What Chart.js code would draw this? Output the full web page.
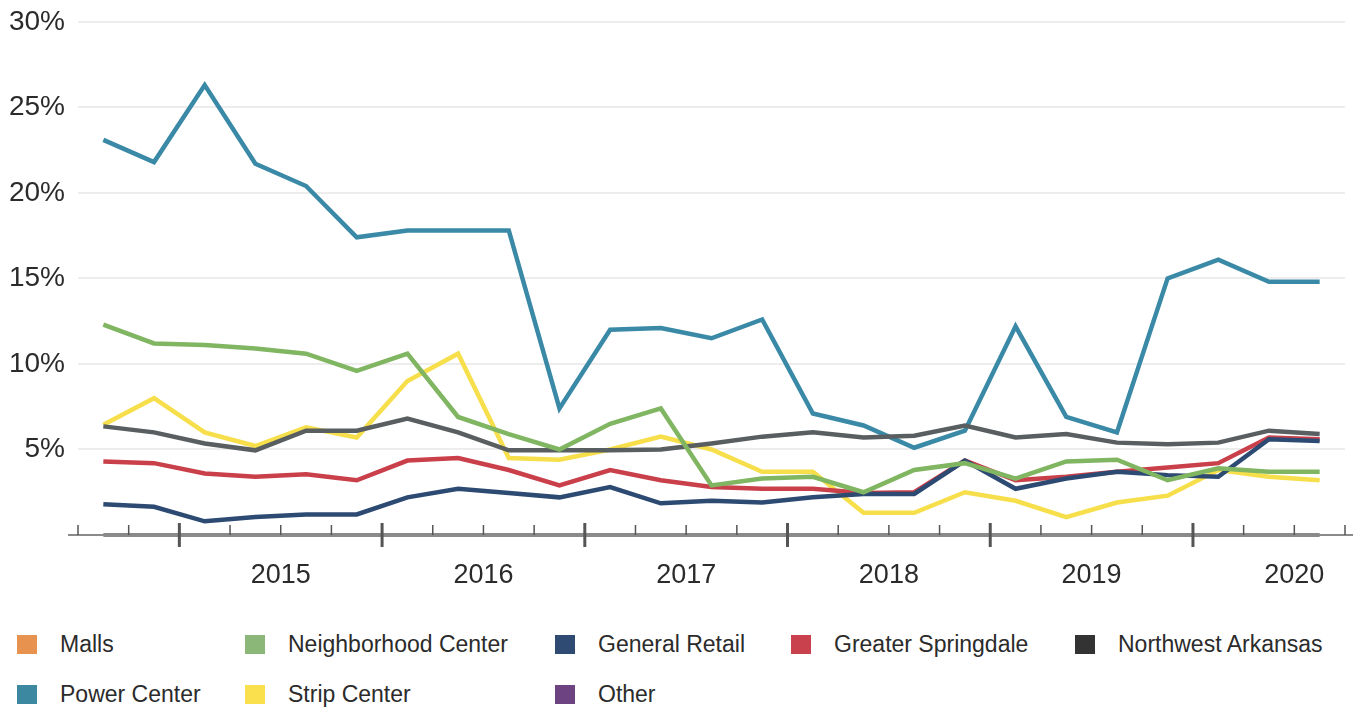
<!DOCTYPE html>
<html>
<head>
<meta charset="utf-8">
<script src="https://cdn.jsdelivr.net/npm/chart.js@4"></script>
<style>
  body { margin: 0; background: #fff; font-family: "Liberation Sans", Arial, sans-serif; }
  #wrap { position: relative; width: 1361px; height: 709px; overflow: hidden; }
  #chartBox { position: absolute; left: 0; top: -8px; width: 1361px; height: 608px; }
  .lg { position: absolute; font-size: 23px; color: #2b2b2b; line-height: 26px; white-space: nowrap; }
  .lg span.box { position: absolute; width: 20px; height: 19px; }
</style>
</head>
<body>
<div id="wrap">
  <div id="chartBox"><canvas id="vacancyChart"></canvas></div>
  <div id="legend"></div>
</div>
<script>
// quarterly vacancy, 2014 Q3 .. 2020 Q3
var quarters = ["2014 Q3", "2014 Q4",
    "2015 Q1", "2015 Q2", "2015 Q3", "2015 Q4",
    "2016 Q1", "2016 Q2", "2016 Q3", "2016 Q4",
    "2017 Q1", "2017 Q2", "2017 Q3", "2017 Q4",
    "2018 Q1", "2018 Q2", "2018 Q3", "2018 Q4",
    "2019 Q1", "2019 Q2", "2019 Q3", "2019 Q4",
    "2020 Q1", "2020 Q2", "2020 Q3"];
var yearLabels = ["2015", "2016", "2017", "2018", "2019", "2020"];
var yTicks = [0, 5, 10, 15, 20, 25, 30];

var malls = [];
var neighborhoodCenter = [12.3, 11.2, 11.1, 10.9, 10.6, 9.6, 10.6, 6.9, 5.9, 5.0, 6.5, 7.4, 2.9, 3.3, 3.4, 2.5, 3.8, 4.2, 3.3, 4.3, 4.4, 3.2, 3.9, 3.7, 3.7];
var generalRetail = [1.8, 1.65, 0.8, 1.05, 1.2, 1.2, 2.2, 2.7, 2.45, 2.2, 2.8, 1.85, 2.0, 1.9, 2.2, 2.4, 2.4, 4.35, 2.7, 3.3, 3.7, 3.5, 3.4, 5.6, 5.5];
var greaterSpringdale = [4.3, 4.2, 3.6, 3.4, 3.55, 3.2, 4.35, 4.5, 3.8, 2.9, 3.8, 3.2, 2.8, 2.7, 2.7, 2.45, 2.5, 4.35, 3.2, 3.4, 3.7, 3.95, 4.2, 5.7, 5.6];
var northwestArkansas = [6.35, 6.0, 5.35, 4.95, 6.1, 6.1, 6.8, 6.0, 4.95, 4.95, 4.95, 5.0, 5.35, 5.75, 6.0, 5.7, 5.8, 6.4, 5.7, 5.9, 5.4, 5.3, 5.4, 6.1, 5.9];
var powerCenter = [23.1, 21.8, 26.3, 21.7, 20.4, 17.4, 17.8, 17.8, 17.8, 7.4, 12.0, 12.1, 11.5, 12.6, 7.1, 6.4, 5.1, 6.1, 12.2, 6.9, 6.0, 15.0, 16.1, 14.8, 14.8];
var stripCenter = [6.45, 8.0, 6.0, 5.2, 6.3, 5.7, 9.0, 10.6, 4.5, 4.4, 5.0, 5.75, 5.0, 3.7, 3.7, 1.3, 1.3, 2.5, 2.0, 1.05, 1.9, 2.3, 3.8, 3.4, 3.2];
var other = [];

var seriesNames = ["Malls", "Neighborhood Center", "General Retail", "Greater Springdale",
    "Northwest Arkansas", "Power Center", "Strip Center", "Other"];
var seriesData = [malls, neighborhoodCenter, generalRetail, greaterSpringdale,
    northwestArkansas, powerCenter, stripCenter, other];
var lineColors = ["#e8924f", "#80b561", "#2c4a72", "#c9404b", "#595e61", "#3a89a6", "#f6df4a", "#6e4382"];
var swatchColors = ["#e8924f", "#8bb878", "#2f4a73", "#c9414d", "#333333", "#3b88a0", "#fbe04e", "#6e4382"];

// legend grid: column x for marker / text, row y
var legendCols = [17, 245, 555, 791, 1075];
var legendRows = [635, 685];

function toPoints(arr) {
    return arr.map(function (v, i) { return { x: i, y: v }; });
}

var datasets = seriesNames.map(function (name, i) {
    return {
        label: name,
        data: toPoints(seriesData[i]),
        borderColor: lineColors[i],
        backgroundColor: lineColors[i],
        borderWidth: 4.5,
        pointRadius: 0,
        tension: 0,
        fill: false
    };
});

var lastIdx = quarters.length - 1;

var axisPlugin = {
    id: "quarterAxis",
    afterDatasetsDraw: function (chart) {
        var ctx = chart.ctx;
        var xs = chart.scales.x;
        var ys = chart.scales.y;
        var y0 = ys.getPixelForValue(0);
        ctx.save();
        ctx.strokeStyle = "#8a8a8a";
        ctx.lineWidth = 2;
        ctx.beginPath();
        ctx.moveTo(xs.getPixelForValue(-0.5) - 10, y0);
        ctx.lineTo(xs.getPixelForValue(lastIdx + 0.5) + 8, y0);
        ctx.stroke();
        ctx.lineWidth = 4;
        ctx.beginPath();
        ctx.moveTo(xs.getPixelForValue(0), y0);
        ctx.lineTo(xs.getPixelForValue(lastIdx), y0);
        ctx.stroke();
        ctx.strokeStyle = "#555";
        for (var b = 0; b <= quarters.length; b++) {
            var px = xs.getPixelForValue(b - 0.5);
            var yearEdge = b > 0 && b < quarters.length && quarters[b].indexOf("Q1") > 0;
            ctx.lineWidth = yearEdge ? 3 : 1.5;
            ctx.beginPath();
            ctx.moveTo(px, y0 - (yearEdge ? 12 : 10));
            ctx.lineTo(px, y0 + (yearEdge ? 12 : 0));
            ctx.stroke();
        }
        ctx.restore();
    }
};

// year labels sit in the middle of each year's four quarters
function yearCenter(label) {
    var first = quarters.indexOf(label + " Q1");
    return first + 1.5;
}

var ctx = document.getElementById("vacancyChart").getContext("2d");
var vacancyChart = new Chart(ctx, {
    type: "line",
    data: { datasets: datasets },
    plugins: [axisPlugin],
    options: {
        responsive: true,
        maintainAspectRatio: false,
        animation: false,
        layout: { padding: { top: 12, right: 16, left: 0, bottom: 0 } },
        plugins: {
            legend: { display: false },
            tooltip: { enabled: false }
        },
        scales: {
            x: {
                type: "linear",
                min: -0.5,
                max: lastIdx + 0.5,
                afterBuildTicks: function (scale) {
                    scale.ticks = yearLabels.map(function (y) { return { value: yearCenter(y) }; });
                },
                afterFit: function (scale) { scale.height = 65; },
                ticks: {
                    autoSkip: false,
                    maxRotation: 0,
                    padding: 16,
                    color: "#2b2b2b",
                    font: { family: "'Liberation Sans', Arial, sans-serif", size: 27 },
                    callback: function (v) {
                        for (var i = 0; i < yearLabels.length; i++) {
                            if (yearCenter(yearLabels[i]) === v) return yearLabels[i];
                        }
                        return "";
                    }
                },
                grid: { display: false },
                border: { display: false }
            },
            y: {
                min: yTicks[0],
                max: yTicks[yTicks.length - 1],
                afterBuildTicks: function (scale) {
                    scale.ticks = yTicks.map(function (v) { return { value: v }; });
                },
                afterFit: function (scale) { scale.width = 78; },
                ticks: {
                    padding: 13,
                    color: "#2b2b2b",
                    font: { family: "'Liberation Sans', Arial, sans-serif", size: 28 },
                    callback: function (v) { return v === 0 ? "" : v + "%"; }
                },
                grid: {
                    color: function (c) { return c.tick && c.tick.value === 0 ? "rgba(0,0,0,0)" : "#ededed"; },
                    lineWidth: 2,
                    drawTicks: false
                },
                border: { display: false }
            }
        }
    }
});

// html legend, two rows of five columns
var legendEl = document.getElementById("legend");
seriesNames.forEach(function (name, i) {
    var col = i % legendCols.length;
    var row = Math.floor(i / legendCols.length);
    var item = document.createElement("div");
    item.className = "lg";
    item.style.left = legendCols[col] + "px";
    item.style.top = legendRows[row] + "px";
    var box = document.createElement("span");
    box.className = "box";
    box.style.left = "0px";
    box.style.top = "0px";
    box.style.background = swatchColors[i];
    var txt = document.createElement("span");
    txt.textContent = name;
    txt.style.position = "absolute";
    txt.style.left = "43px";
    txt.style.top = "-4px";
    item.appendChild(box);
    item.appendChild(txt);
    legendEl.appendChild(item);
});
</script>
</body>
</html>
